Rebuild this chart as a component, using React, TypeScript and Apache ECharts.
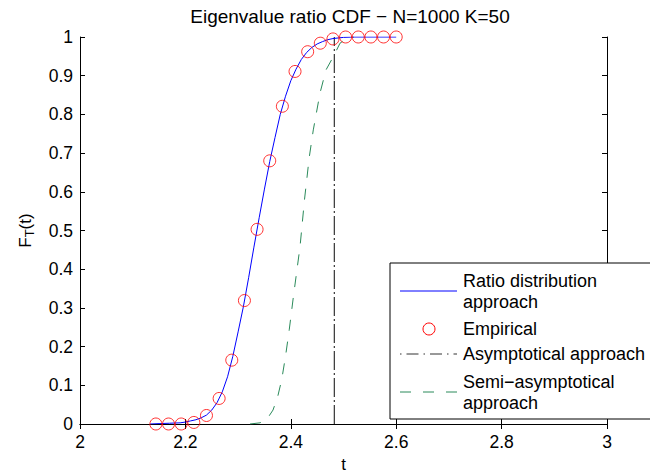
import React, { useEffect, useRef } from "react";
import * as echarts from "echarts";

const FONT = "'Liberation Sans', Arial, Helvetica, sans-serif";

const titleText = "Eigenvalue ratio CDF \u2212 N=1000 K=50";
const xTicks = [2, 2.2, 2.4, 2.6, 2.8, 3];

// Ratio distribution approach (blue solid)
const ratioT = [2.133, 2.15, 2.17, 2.19, 2.2, 2.21, 2.22, 2.23, 2.24, 2.25, 2.26, 2.27, 2.28, 2.29, 2.3, 2.31, 2.32, 2.33, 2.34, 2.35, 2.36, 2.37, 2.38, 2.39, 2.4, 2.41, 2.42, 2.43, 2.44, 2.45, 2.46, 2.47, 2.48, 2.5, 2.52, 2.6];
const ratioF = [0, 0.001, 0.002, 0.003, 0.005, 0.008, 0.011, 0.016, 0.023, 0.036, 0.055, 0.083, 0.122, 0.175, 0.238, 0.303, 0.378, 0.457, 0.533, 0.607, 0.678, 0.74, 0.8, 0.847, 0.887, 0.917, 0.942, 0.96, 0.973, 0.982, 0.988, 0.993, 0.996, 0.999, 1.0, 1.0];

// Empirical (red circles)
const empT = [2.144, 2.168, 2.192, 2.216, 2.24, 2.264, 2.288, 2.312, 2.336, 2.36, 2.384, 2.408, 2.432, 2.456, 2.48, 2.504, 2.528, 2.552, 2.576, 2.6];
const empF = [0, 0, 0, 0.004, 0.022, 0.066, 0.165, 0.319, 0.503, 0.68, 0.821, 0.911, 0.962, 0.984, 0.995, 1, 1, 1, 1, 1];

// Asymptotical approach (vertical dash-dot)
const asymT = [2.4826, 2.4826];
const asymF = [0, 1];

// Semi-asymptotical approach (green dashed)
const semiT = [2.3226, 2.3416, 2.355, 2.3662, 2.375, 2.3827, 2.39, 2.3972, 2.405, 2.4175, 2.426, 2.4351, 2.4427, 2.4554, 2.4668, 2.4806, 2.4934, 2.5091, 2.52];
const semiF = [0, 0.003, 0.013, 0.036, 0.07, 0.114, 0.175, 0.245, 0.33, 0.458, 0.58, 0.69, 0.76, 0.855, 0.915, 0.949, 0.984, 0.999, 1.0];

const legendLabels = [
  ["Ratio distribution", "approach"],
  ["Empirical"],
  ["Asymptotical approach"],
  ["Semi\u2212asymptotical", "approach"],
];

const BLUE = "#0000ff";
const RED = "#ff0000";
const GREEN = "#2a8a5a";
const DARK = "#333333";

const zip = (a: number[], b: number[]) => a.map((v, i) => [v, b[i]]);

export default function App() {
  const ref = useRef<HTMLDivElement>(null);
  useEffect(() => {
    if (!ref.current) return;
    const chart = echarts.init(ref.current, undefined, { renderer: "svg" });
    const axisCommon = {
      axisLine: { show: true, lineStyle: { color: "#000", width: 1 } },
      axisTick: { show: true, inside: true, length: 5, lineStyle: { color: "#000", width: 1 } },
      splitLine: { show: false },
    };
    const lx = 390;
    const textX = 463;
    const fs = 18;
    const graphic: any[] = [
      {
        type: "rect",
        shape: { x: lx, y: 263, width: 290, height: 156 },
        style: { fill: "#fff", stroke: "#000", lineWidth: 1 },
        z: 100,
      },
      { type: "line", shape: { x1: 400, y1: 291, x2: 457, y2: 291 }, style: { stroke: BLUE, lineWidth: 1 }, z: 101 },
      { type: "circle", shape: { cx: 429, cy: 329, r: 6 }, style: { fill: "none", stroke: RED, lineWidth: 1 }, z: 101 },
      { type: "line", shape: { x1: 400, y1: 354, x2: 457, y2: 354 }, style: { stroke: DARK, lineWidth: 1, lineDash: [1.5, 5, 12, 5] }, z: 101 },
      { type: "line", shape: { x1: 400, y1: 392, x2: 457, y2: 392 }, style: { stroke: GREEN, lineWidth: 1, lineDash: [11, 12] }, z: 101 },
    ];
    const textRows: [string, number][] = [
      [legendLabels[0][0], 281],
      [legendLabels[0][1], 302],
      [legendLabels[1][0], 329],
      [legendLabels[2][0], 354],
      [legendLabels[3][0], 382],
      [legendLabels[3][1], 403],
    ];
    textRows.forEach(([t, y]) => {
      graphic.push({
        type: "text",
        x: textX,
        y,
        z: 101,
        style: { text: t, fill: "#000", font: `${fs}px ${FONT}`, textVerticalAlign: "middle", textAlign: "left" },
      });
    });

    chart.setOption({
      animation: false,
      backgroundColor: "#fff",
      textStyle: { fontFamily: FONT },
      title: {
        text: titleText,
        left: 345,
        textAlign: "center",
        top: 2,
        textStyle: { fontSize: 19, fontWeight: "normal", color: "#000", fontFamily: FONT },
      },
      grid: { left: 80, right: 43, top: 37, bottom: 48, containLabel: false, outerBoundsMode: "none" },
      xAxis: [
        {
          ...axisCommon,
          type: "value",
          min: 2,
          max: 3,
          interval: 0.2,
          position: "bottom",
          name: "t",
          nameLocation: "middle",
          nameGap: 29,
          nameTextStyle: { fontSize: 17, lineHeight: 14, color: "#000", fontFamily: FONT },
          axisLabel: {
            show: true,
            color: "#000",
            fontSize: 17.5,
            fontFamily: FONT,
            margin: 9,
            formatter: (v: number) => {
              const r = Math.round(v * 10) / 10;
              return xTicks.includes(r) ? String(r) : "";
            },
          },
        },
        {
          ...axisCommon,
          type: "value",
          min: 2,
          max: 3,
          interval: 0.2,
          position: "top",
          axisLabel: { show: false },
        },
      ],
      yAxis: [
        {
          ...axisCommon,
          type: "value",
          min: 0,
          max: 1,
          interval: 0.1,
          position: "left",
          name: "F{sub|T}(t)",
          nameLocation: "middle",
          nameRotate: 90,
          nameGap: 44,
          nameTextStyle: {
            fontSize: 17,
            color: "#000",
            fontFamily: FONT,
            rich: { sub: { fontSize: 13, color: "#000", fontFamily: FONT, verticalAlign: "bottom", padding: [8, 0, 0, 0] } },
          },
          axisLabel: {
            show: true,
            color: "#000",
            fontSize: 17.5,
            fontFamily: FONT,
            margin: 7,
            formatter: (v: number) => String(Math.round(v * 10) / 10),
          },
        },
        {
          ...axisCommon,
          type: "value",
          min: 0,
          max: 1,
          interval: 0.1,
          position: "right",
          axisLabel: { show: false },
        },
      ],
      series: [
        {
          name: "Ratio distribution approach",
          type: "line",
          data: zip(ratioT, ratioF),
          showSymbol: false,
          symbol: "none",
          lineStyle: { color: BLUE, width: 1 },
          z: 3,
        },
        {
          name: "Empirical",
          type: "scatter",
          data: zip(empT, empF),
          symbol: "circle",
          symbolSize: 12,
          itemStyle: { color: "rgba(0,0,0,0)", borderColor: RED, borderWidth: 1 },
          z: 4,
        },
        {
          name: "Asymptotical approach",
          type: "line",
          data: zip(asymT, asymF),
          showSymbol: false,
          symbol: "none",
          lineStyle: { color: DARK, width: 1.2, type: [19, 3, 2, 3] },
          z: 2,
        },
        {
          name: "Semi-asymptotical approach",
          type: "line",
          data: zip(semiT, semiF),
          showSymbol: false,
          symbol: "none",
          lineStyle: { color: GREEN, width: 1, type: [11, 11] },
          z: 2,
        },
      ],
      graphic,
    });
    return () => chart.dispose();
  }, []);
  return <div ref={ref} style={{ position: "fixed", left: 0, top: 0, width: 650, height: 472 }} />;
}
